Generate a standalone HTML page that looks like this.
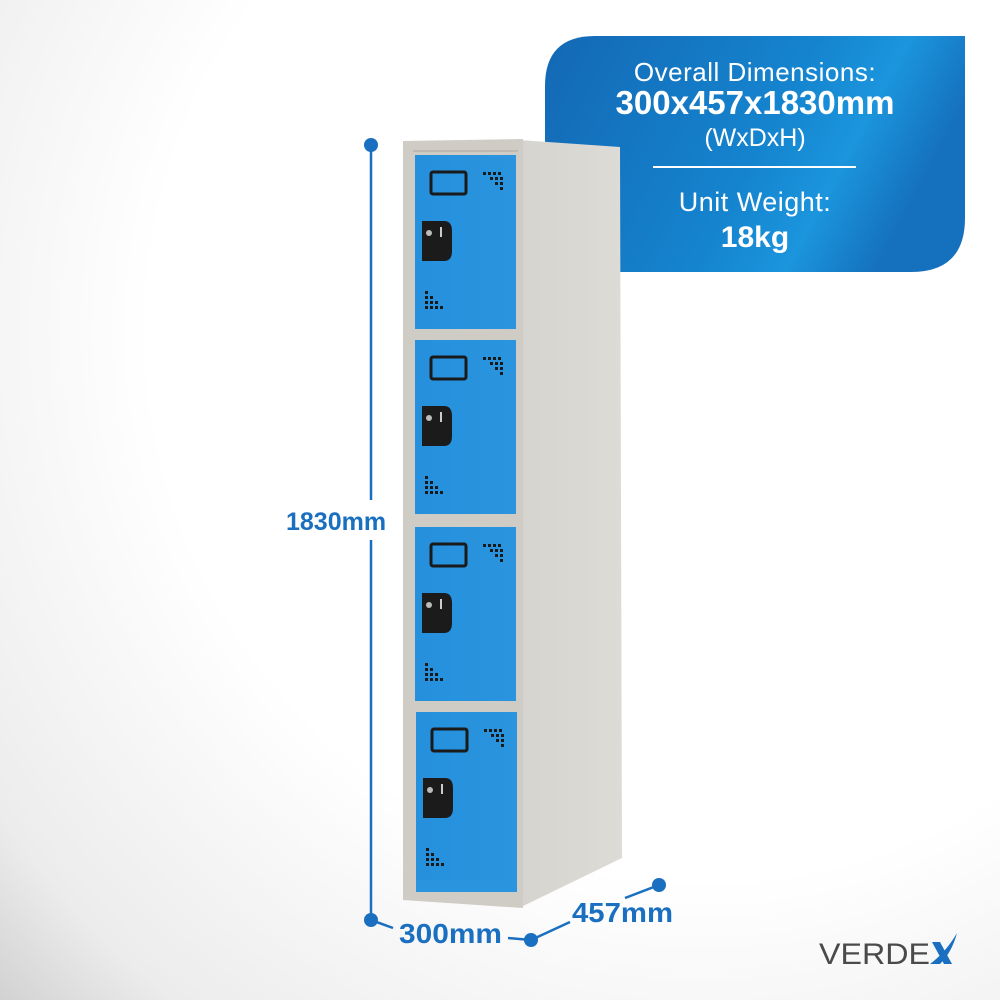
<!DOCTYPE html>
<html><head><meta charset="utf-8"><style>
html,body{margin:0;padding:0;width:1000px;height:1000px;overflow:hidden}
svg{display:block}
text{font-family:"Liberation Sans",sans-serif}
</style></head><body>
<svg width="1000" height="1000" viewBox="0 0 1000 1000" xmlns="http://www.w3.org/2000/svg">
<defs>
<radialGradient id="bg" cx="700" cy="330" r="1000" gradientUnits="userSpaceOnUse">
<stop offset="0.55" stop-color="#ffffff"/><stop offset="0.85" stop-color="#ececec"/><stop offset="1" stop-color="#cbcbcb"/>
</radialGradient>
<linearGradient id="ban" x1="0" y1="0" x2="1" y2="0.3">
<stop offset="0" stop-color="#1468b4"/><stop offset="0.6" stop-color="#1584cf"/><stop offset="0.8" stop-color="#1b95dd"/><stop offset="1" stop-color="#1570bd"/>
</linearGradient>
<linearGradient id="side" x1="0" y1="0" x2="1" y2="0">
<stop offset="0" stop-color="#d6d4cf"/><stop offset="1" stop-color="#dddbd6"/>
</linearGradient>
<linearGradient id="door" x1="0" y1="0" x2="1" y2="0">
<stop offset="0" stop-color="#2590dc"/><stop offset="1" stop-color="#2a94de"/>
</linearGradient>
<g id="d">
<rect x="0" y="0" width="101" height="174" fill="url(#door)"/>
<rect x="16" y="17" width="35" height="22" rx="2" fill="none" stroke="#1a1a1a" stroke-width="3"/>
<path d="M7 66 h22 q8 0 8 10 v20 q0 10 -8 10 h-22 z" fill="#1b1b1b"/>
<circle cx="14" cy="78" r="3" fill="#bbb"/>
<rect x="25" y="72" width="2" height="10" fill="#ccc"/>
<g fill="#1a1a1a">
<rect x="68" y="17" width="3" height="3"/><rect x="73" y="17" width="3" height="3"/><rect x="78" y="17" width="3" height="3"/><rect x="83" y="17" width="3" height="3"/>
<rect x="75" y="22" width="3" height="3"/><rect x="80" y="22" width="3" height="3"/><rect x="85" y="22" width="3" height="3"/>
<rect x="80" y="27" width="3" height="3"/><rect x="85" y="27" width="3" height="3"/><rect x="85" y="32" width="3" height="3"/>
<rect x="10" y="136" width="3" height="3"/><rect x="10" y="141" width="3" height="3"/><rect x="15" y="141" width="3" height="3"/>
<rect x="10" y="146" width="3" height="3"/><rect x="15" y="146" width="3" height="3"/><rect x="20" y="146" width="3" height="3"/>
<rect x="10" y="151" width="3" height="3"/><rect x="15" y="151" width="3" height="3"/><rect x="20" y="151" width="3" height="3"/><rect x="25" y="151" width="3" height="3"/>
</g>
</g>
</defs>
<rect width="1000" height="1000" fill="url(#bg)"/>
<path d="M595 36 H965 V218 Q965 272 911 272 H545 V86 Q545 36 595 36 Z" fill="url(#ban)"/>
<text x="755" y="81" font-size="26" fill="#fff" text-anchor="middle" letter-spacing="0.5">Overall Dimensions:</text>
<text x="755" y="114" font-size="33" font-weight="bold" fill="#fff" text-anchor="middle">300x457x1830mm</text>
<text x="755" y="146" font-size="25" fill="#fff" text-anchor="middle">(WxDxH)</text>
<rect x="653" y="166" width="203" height="2" fill="#fff"/>
<text x="755" y="211" font-size="27" fill="#fff" text-anchor="middle" letter-spacing="0.5">Unit Weight:</text>
<text x="755" y="247" font-size="30" font-weight="bold" fill="#fff" text-anchor="middle">18kg</text>
<polygon points="519,140 620,147 622,858 519,908" fill="url(#side)"/>
<polygon points="403,141 523,139 523,908 403,900" fill="#cfccc5"/>
<rect x="413" y="150" width="105" height="2" fill="#bdb9b2"/>
<use href="#d" x="415" y="155"/>
<use href="#d" x="415" y="340"/>
<use href="#d" x="415" y="527"/>
<use href="#d" x="416" y="712"/>
<rect x="416" y="880" width="101" height="12" fill="#2a94de"/>
<g stroke="#1a6fc0" stroke-width="2.5" fill="none">
<line x1="371" y1="145" x2="371" y2="500"/>
<line x1="371" y1="540" x2="371" y2="920"/>
<line x1="371" y1="920" x2="393" y2="928"/>
<line x1="508" y1="938" x2="531" y2="940"/>
<line x1="531" y1="940" x2="570" y2="922"/>
<line x1="625" y1="898" x2="659" y2="885"/>
</g>
<g fill="#1a6fc0">
<circle cx="371" cy="145" r="7"/><circle cx="371" cy="920" r="7"/>
<circle cx="531" cy="940" r="7"/><circle cx="659" cy="885" r="7"/>
</g>
<g font-weight="bold" fill="#1a6fc0">
<text x="286" y="530" font-size="25">1830mm</text>
<text x="399" y="943" font-size="28" textLength="103" lengthAdjust="spacingAndGlyphs">300mm</text>
<text x="572" y="922" font-size="28" textLength="101" lengthAdjust="spacingAndGlyphs">457mm</text>
</g>
<text x="819" y="964" font-size="30" fill="#4a4a4a" textLength="111" lengthAdjust="spacingAndGlyphs">VERDE</text>
<path d="M932 942 L940 942 L952 964 L944 964 Z" fill="#1a6fc0"/>
<path d="M930 964 Q946 952 957 933 Q952 952 940 964 Z" fill="#1a6fc0"/>
</svg>
</body></html>
